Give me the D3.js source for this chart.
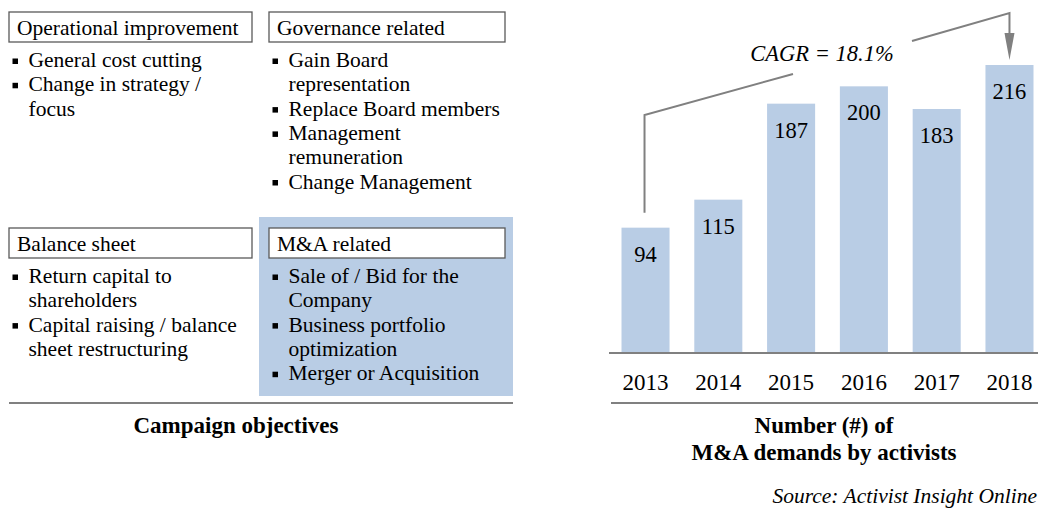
<!DOCTYPE html>
<html>
<head>
<meta charset="utf-8">
<script src="https://cdn.jsdelivr.net/npm/d3@7"></script>
<style>
  html, body { margin: 0; padding: 0; background: #fff; }
  svg { display: block; }
</style>
</head>
<body>
<div id="output"></div>
<script>
// bar chart data
const years = ["2013", "2014", "2015", "2016", "2017", "2018"];
const demands = [94, 115, 187, 200, 183, 216];
const cagrLabel = "CAGR = 18.1%";

// campaign objective boxes (left panel)
const categories = ["Operational improvement", "Governance related", "Balance sheet", "M&A related"];
const categoryItems = [
    [["General cost cutting"], ["Change in strategy /", "focus"]],
    [["Gain Board", "representation"], ["Replace Board members"], ["Management", "remuneration"], ["Change Management"]],
    [["Return capital to", "shareholders"], ["Capital raising / balance", "sheet restructuring"]],
    [["Sale of / Bid for the", "Company"], ["Business portfolio", "optimization"], ["Merger or Acquisition"]]
];
const highlighted = "M&A related";

const blue = "#b9cde5";
const gray = "#808080";
const font = "'Liberation Serif', 'Times New Roman', serif";

function draw() {
    document.getElementById('output').innerHTML = '';
    const W = 1038, H = 509;
    const svg = d3.select("#output").append("svg").attr("width", W).attr("height", H)
        .style("font-family", font);

    // ---- left panel ----
    const colX = [9, 269];
    const colW = [243, 236];
    const rowY = [12, 228];
    const lineH = 24.3;

    // highlight background behind the M&A box
    const hi = categories.indexOf(highlighted);
    svg.append("rect")
        .attr("x", colX[hi % 2] - 10)
        .attr("y", rowY[Math.floor(hi / 2)] - 11)
        .attr("width", colW[hi % 2] + 18)
        .attr("height", 179)
        .style("fill", blue);

    categories.forEach((cat, i) => {
        const bx = colX[i % 2];
        const by = rowY[Math.floor(i / 2)];
        const g = svg.append("g");
        g.append("rect")
            .attr("x", bx).attr("y", by)
            .attr("width", colW[i % 2]).attr("height", 30)
            .style("fill", "white")
            .style("stroke", "#595959")
            .style("stroke-width", 1.3);
        g.append("text")
            .attr("x", bx + 8).attr("y", by + 23)
            .style("font-size", "21.5px")
            .style("fill", "#000")
            .text(cat);

        let y = by + 55;
        for (let item of categoryItems[i]) {
            g.append("rect")
                .attr("x", bx + 3.5).attr("y", y - 8.5)
                .attr("width", 5.5).attr("height", 5.5)
                .style("fill", "#000");
            for (let line of item) {
                g.append("text")
                    .attr("x", bx + 19.5).attr("y", y)
                    .style("font-size", "21.5px")
                    .style("fill", "#000")
                    .text(line);
                y += lineH;
            }
        }
    });

    svg.append("line")
        .attr("x1", 9).attr("x2", 513).attr("y1", 403).attr("y2", 403)
        .style("stroke", gray).style("stroke-width", 2);

    svg.append("text")
        .attr("x", 236).attr("y", 433)
        .style("font-size", "23px").style("font-weight", "bold")
        .style("text-anchor", "middle")
        .text("Campaign objectives");

    // ---- right panel: bar chart ----
    const x = d3.scaleBand().domain(years).range([621.5, 1033.5]).paddingInner(0.34).paddingOuter(0);
    const y = d3.scaleLinear().domain([0, 240]).range([353, 33]);
    const bw = x.bandwidth();

    const bars = svg.append("g");
    bars.selectAll("rect")
        .data(demands)
        .join("rect")
        .attr("x", (d, i) => x(years[i]))
        .attr("y", d => y(d))
        .attr("width", bw)
        .attr("height", d => y(0) - y(d))
        .style("fill", blue);

    bars.selectAll("text")
        .data(demands)
        .join("text")
        .attr("x", (d, i) => x(years[i]) + bw / 2)
        .attr("y", d => y(d) + 34)
        .style("font-size", "22.5px")
        .style("text-anchor", "middle")
        .style("fill", "#000")
        .text(d => d);

    // axis with year labels
    const axis = svg.append("g")
        .attr("transform", `translate(0,${y(0)})`)
        .call(d3.axisBottom(x).tickSize(0).tickPadding(21));
    axis.select(".domain").remove();
    axis.selectAll("text")
        .style("font-family", font)
        .style("font-size", "23px")
        .style("fill", "#000");

    svg.append("line")
        .attr("x1", 609).attr("x2", W).attr("y1", y(0)).attr("y2", y(0))
        .style("stroke", gray).style("stroke-width", 2);
    svg.append("line")
        .attr("x1", 611).attr("x2", W).attr("y1", 403).attr("y2", 403)
        .style("stroke", gray).style("stroke-width", 2);

    // CAGR annotation
    const first = years[0], last = years[years.length - 1];
    const xa = x(first) + bw / 2 - 1;
    const xb = x(last) + bw / 2;
    const ann = svg.append("g").style("stroke", gray).style("stroke-width", 2).style("fill", "none");
    ann.append("path")
        .attr("d", `M${xa},${y(demands[0]) - 15}V115L793,74`);
    ann.append("path")
        .attr("d", `M912,41L${xb},13V34`);
    svg.append("path")
        .attr("d", `M${xb - 5},33L${xb + 5},33L${xb},${y(demands[demands.length - 1]) - 5}Z`)
        .style("fill", gray);

    svg.append("text")
        .attr("x", 822).attr("y", 61)
        .style("font-size", "22.5px").style("font-style", "italic")
        .style("text-anchor", "middle")
        .text(cagrLabel);

    svg.append("text")
        .attr("x", 824).attr("y", 433)
        .style("font-size", "23px").style("font-weight", "bold")
        .style("text-anchor", "middle")
        .text("Number (#) of");
    svg.append("text")
        .attr("x", 824).attr("y", 460)
        .style("font-size", "23px").style("font-weight", "bold")
        .style("text-anchor", "middle")
        .text("M&A demands by activists");

    svg.append("text")
        .attr("x", 1037).attr("y", 503)
        .style("font-size", "21.5px").style("font-style", "italic")
        .style("text-anchor", "end")
        .text("Source: Activist Insight Online");
}

draw();
</script>
</body>
</html>
